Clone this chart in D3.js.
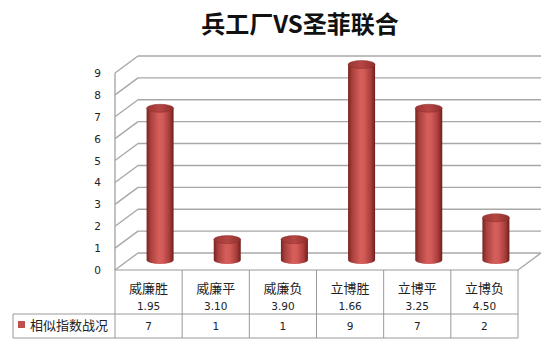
<!DOCTYPE html>
<html><head><meta charset="utf-8">
<script src="https://cdn.jsdelivr.net/npm/d3@7"></script>
<style>body{margin:0;background:#fff}svg{display:block}</style>
</head><body>
<script>
const title = "兵工厂VS圣菲联合";
const categories = ["威廉胜","威廉平","威廉负","立博胜","立博平","立博负"];
const odds = ["1.95","3.10","3.90","1.66","3.25","4.50"];
const seriesName = "相似指数战况";
const values = [7,1,1,9,7,2];
const yTicks = [0,1,2,3,4,5,6,7,8,9];

const W=550,H=345;
const svg=d3.select("body").append("svg").attr("width",W).attr("height",H);
const fontCJK="'Noto Sans CJK SC','Noto Sans',sans-serif";
const fontNum="'DejaVu Sans',Verdana,sans-serif";

const x=d3.scaleBand().domain(categories).range([115,518]);
const y=d3.scaleLinear().domain([0,9]).range([270,73]);
const dx=23, dy=-17;

const defs=svg.append("defs");
const g=defs.append("linearGradient").attr("id","cyl").attr("x1","0").attr("x2","1").attr("y1","0").attr("y2","0");
[[0,"#7a2220"],[0.15,"#a8403d"],[0.45,"#d65e5b"],[0.6,"#d25a57"],[0.85,"#a63c3a"],[1,"#6e1e1c"]].forEach(s=>g.append("stop").attr("offset",s[0]).attr("stop-color",s[1]));
const gt=defs.append("linearGradient").attr("id","cyltop").attr("x1","0").attr("x2","1");
[[0,"#9a3634"],[0.5,"#b54643"],[1,"#8e2f2d"]].forEach(s=>gt.append("stop").attr("offset",s[0]).attr("stop-color",s[1]));

svg.append("text").attr("x",300).attr("y",33).attr("text-anchor","middle")
 .attr("font-family","'Noto Sans CJK SC',sans-serif").attr("font-weight","bold").attr("font-size",24)
 .attr("fill","#111").text(title);

const grid=svg.append("g").attr("stroke","#a8a8a8").attr("stroke-width",1.4).attr("fill","none");
const x0=x.range()[0], x1=x.range()[1];
yTicks.forEach(t=>{
  grid.append("line").attr("x1",x0+dx).attr("x2",x1+dx).attr("y1",y(t)+dy).attr("y2",y(t)+dy);
  grid.append("line").attr("x1",x0).attr("x2",x0+dx).attr("y1",y(t)).attr("y2",y(t)+dy);
});
grid.append("line").attr("x1",x0).attr("x2",x0).attr("y1",y(0)).attr("y2",y(9));
grid.append("line").attr("x1",x1).attr("x2",x1+dx).attr("y1",y(0)).attr("y2",y(0)+dy);

svg.append("g").selectAll("text").data(yTicks).join("text")
 .attr("x",101).attr("y",t=>y(t)+4).attr("text-anchor","end")
 .attr("font-family",fontNum).attr("font-size",10.5).attr("fill","#222").text(t=>t);

const w=27, ry=4;
const bars=svg.append("g");
categories.forEach((c,i)=>{
  const cx=x(c)+x.bandwidth()/2+dx/2;
  const yb=y(0)+dy/2-1.5, yt=y(values[i])+dy/2;
  const l=cx-w/2, r=cx+w/2;
  bars.append("path")
   .attr("d",`M${l},${yt} L${l},${yb} A${w/2},${ry} 0 0 0 ${r},${yb} L${r},${yt} Z`)
   .attr("fill","url(#cyl)");
  bars.append("ellipse").attr("cx",cx).attr("cy",yt).attr("rx",w/2).attr("ry",ry)
   .attr("fill","url(#cyltop)").attr("stroke","#8a2c2a").attr("stroke-width",0.5);
});

const tb=svg.append("g").attr("stroke","#9a9a9a").attr("stroke-width",1).attr("fill","none");
const ty0=270, ty1=314, ty2=338, legL=13;
tb.append("line").attr("x1",x0).attr("x2",x1).attr("y1",ty0).attr("y2",ty0);
tb.append("line").attr("x1",legL).attr("x2",x1).attr("y1",ty1).attr("y2",ty1);
tb.append("line").attr("x1",legL).attr("x2",x1).attr("y1",ty2).attr("y2",ty2);
tb.append("line").attr("x1",legL).attr("x2",legL).attr("y1",ty1).attr("y2",ty2);
categories.forEach(c=>{
  tb.append("line").attr("x1",x(c)).attr("x2",x(c)).attr("y1",ty0).attr("y2",ty2);
});
tb.append("line").attr("x1",x1).attr("x2",x1).attr("y1",ty0).attr("y2",ty2);

const tt=svg.append("g").attr("fill","#222").attr("text-anchor","middle");
categories.forEach((c,i)=>{
  const cx=x(c)+x.bandwidth()/2;
  tt.append("text").attr("x",cx).attr("y",293).attr("font-family",fontCJK).attr("font-size",13).text(c);
  tt.append("text").attr("x",cx).attr("y",310).attr("font-family",fontNum).attr("font-size",10.5).text(odds[i]);
  tt.append("text").attr("x",cx).attr("y",330).attr("font-family",fontNum).attr("font-size",10.5).text(values[i]);
});
svg.append("rect").attr("x",18).attr("y",321).attr("width",7).attr("height",7).attr("fill","#c0504d");
svg.append("text").attr("x",30).attr("y",330).attr("font-family",fontCJK).attr("font-size",13).attr("fill","#222").text(seriesName);
</script>
</body></html>
